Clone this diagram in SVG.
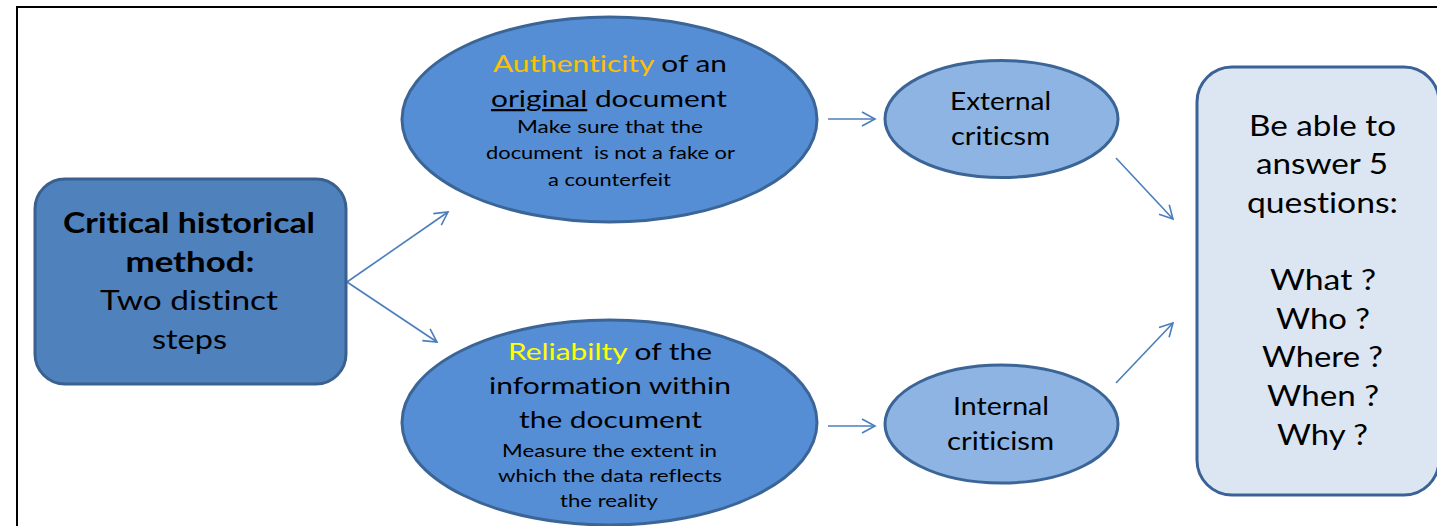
<svg xmlns="http://www.w3.org/2000/svg" width="1437" height="526" viewBox="0 0 1437 526">
<style>
text{font-family:Lato,"Open Sans","Liberation Sans",sans-serif;fill:#000;text-anchor:middle;font-variant-ligatures:none;font-feature-settings:"liga" 0,"clig" 0}
.b{font-weight:bold;font-size:28px}
.l{font-size:26px}
.big{font-size:22.5px}
.sm{font-size:16.5px}
.ec{font-size:25px}
.rt{font-size:29px}
.conn{stroke:#4A7EBB;stroke-width:1.6;fill:none;marker-end:url(#ah)}
</style>
<defs>
<marker id="ah" markerUnits="userSpaceOnUse" markerWidth="16" markerHeight="16" refX="14" refY="8" orient="auto">
<path d="M1,1 L14,8 L1,15" fill="none" stroke="#4A7EBB" stroke-width="1.6"/>
</marker>
</defs>
<rect width="1437" height="526" fill="#fff"/>
<rect x="17" y="7" width="1440" height="540" fill="none" stroke="#000" stroke-width="2"/>
<g id="connectors">
<line class="conn" x1="347" y1="282" x2="448" y2="212"/>
<line class="conn" x1="347" y1="282" x2="437" y2="342"/>
<line class="conn" x1="828" y1="119" x2="875" y2="119"/>
<line class="conn" x1="828" y1="426" x2="875" y2="426"/>
<line class="conn" x1="1116" y1="158" x2="1173" y2="219"/>
<line class="conn" x1="1116" y1="383" x2="1173" y2="323"/>
</g>
<g id="method">
<rect x="35" y="179" width="311" height="205" rx="30" fill="#4F81BD" stroke="#3A6090" stroke-width="3"/>
<text class="b" x="189" y="233" textLength="252" lengthAdjust="spacingAndGlyphs">Critical historical</text>
<text class="b" x="190" y="272" textLength="129" lengthAdjust="spacingAndGlyphs">method:</text>
<text class="l" x="189" y="310" textLength="178" lengthAdjust="spacingAndGlyphs">Two distinct</text>
<text class="l" x="189.5" y="349" textLength="75" lengthAdjust="spacingAndGlyphs">steps</text>
</g>
<g id="authenticity">
<ellipse cx="609.5" cy="119.5" rx="207.5" ry="102.5" fill="#558ED5" stroke="#3B6596" stroke-width="3"/>
<text class="big" x="610" y="72" textLength="234" lengthAdjust="spacingAndGlyphs"><tspan fill="#FFC000">Authenticity</tspan> of an</text>
<text class="big" x="609" y="107" textLength="236" lengthAdjust="spacingAndGlyphs"><tspan text-decoration="underline">original</tspan> document</text>
<text class="sm" x="610" y="133" textLength="186" lengthAdjust="spacingAndGlyphs">Make sure that the</text>
<text class="sm" x="610.5" y="159" textLength="249" lengthAdjust="spacingAndGlyphs" xml:space="preserve">document  is not a fake or</text>
<text class="sm" x="609.5" y="186" textLength="123" lengthAdjust="spacingAndGlyphs">a counterfeit</text>
</g>
<g id="reliability">
<ellipse cx="609.5" cy="422.5" rx="207.5" ry="102.5" fill="#558ED5" stroke="#3B6596" stroke-width="3"/>
<text class="big" x="610" y="360" textLength="204" lengthAdjust="spacingAndGlyphs"><tspan fill="#FFFF00">Reliabilty</tspan> of the</text>
<text class="big" x="610" y="394" textLength="242" lengthAdjust="spacingAndGlyphs">information within</text>
<text class="big" x="610.5" y="428" textLength="183" lengthAdjust="spacingAndGlyphs">the document</text>
<text class="sm" x="609.5" y="457" textLength="215" lengthAdjust="spacingAndGlyphs">Measure the extent in</text>
<text class="sm" x="610" y="482" textLength="224" lengthAdjust="spacingAndGlyphs">which the data reflects</text>
<text class="sm" x="609" y="507" textLength="98" lengthAdjust="spacingAndGlyphs">the reality</text>
</g>
<g id="external">
<ellipse cx="1001.5" cy="119" rx="116.5" ry="58.5" fill="#8EB4E3" stroke="#3B6596" stroke-width="3"/>
<text class="ec" x="1000.5" y="110" textLength="101" lengthAdjust="spacingAndGlyphs">External</text>
<text class="ec" x="1000.5" y="145" textLength="99" lengthAdjust="spacingAndGlyphs">criticsm</text>
</g>
<g id="internal">
<ellipse cx="1001.5" cy="424" rx="116.5" ry="59" fill="#8EB4E3" stroke="#3B6596" stroke-width="3"/>
<text class="ec" x="1001" y="415" textLength="96" lengthAdjust="spacingAndGlyphs">Internal</text>
<text class="ec" x="1000.5" y="450" textLength="107" lengthAdjust="spacingAndGlyphs">criticism</text>
</g>
<g id="questions">
<rect x="1197" y="67" width="242" height="428" rx="35" fill="#DCE6F2" stroke="#3A6297" stroke-width="3"/>
<text class="rt" x="1322.5" y="136" textLength="147" lengthAdjust="spacingAndGlyphs">Be able to</text>
<text class="rt" x="1322" y="174" textLength="132" lengthAdjust="spacingAndGlyphs">answer 5</text>
<text class="rt" x="1322.5" y="213" textLength="151" lengthAdjust="spacingAndGlyphs">questions:</text>
<text class="rt" x="1323" y="290" textLength="106" lengthAdjust="spacingAndGlyphs">What ?</text>
<text class="rt" x="1323" y="329" textLength="94" lengthAdjust="spacingAndGlyphs">Who ?</text>
<text class="rt" x="1322.5" y="367" textLength="121" lengthAdjust="spacingAndGlyphs">Where ?</text>
<text class="rt" x="1323" y="406" textLength="112" lengthAdjust="spacingAndGlyphs">When ?</text>
<text class="rt" x="1322.5" y="445" textLength="91" lengthAdjust="spacingAndGlyphs">Why ?</text>
</g>
</svg>
